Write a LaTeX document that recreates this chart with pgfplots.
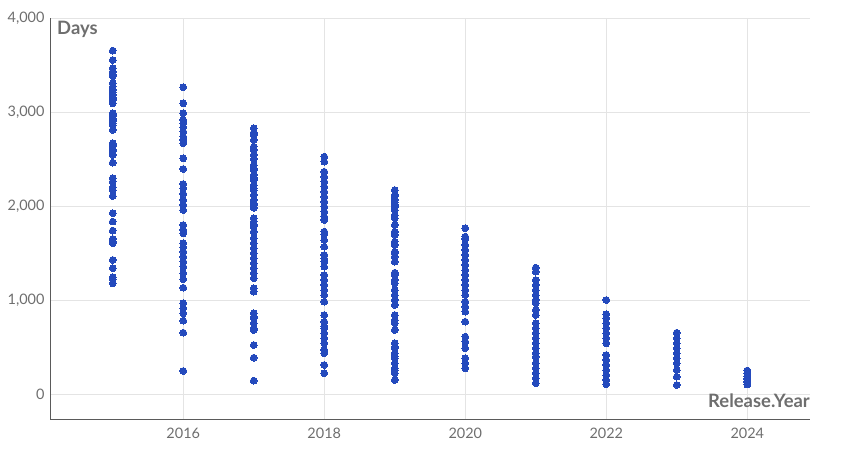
\documentclass[border=0pt]{standalone}
\usepackage{fontspec}
\setmainfont{Lato}
\usepackage{pgfplots}
\pgfplotsset{compat=1.18}
\definecolor{dot}{RGB}{36,74,189}
\definecolor{ticktxt}{RGB}{110,110,110}
\definecolor{gridc}{RGB}{228,228,228}
\definecolor{axc}{RGB}{90,90,90}

\begin{document}
\begin{tikzpicture}[x=1bp,y=1bp]
    \useasboundingbox (0,0) rectangle (852,455);
    \begin{axis}[
            at={(50bp,36bp)}, anchor=south west,
            scale only axis,
            width=760bp, height=401bp,
            xmin=2014.11, xmax=2024.89,
            ymin=-266, ymax=4000,
            axis x line=bottom, axis y line=left,
            axis line style={axc, thick, -},
            xtick={2016,2018,...,2024},
            ytick={0,1000,...,4000},
            major tick length=0pt,
            grid=major,
            major grid style={gridc, line width=0.9pt},
            tick label style={ticktxt, font=\fontsize{14.5}{16}\selectfont},
            x tick label style={/pgf/number format/set thousands separator={}, yshift=-6bp},
            y tick label style={/pgf/number format/1000 sep={,}, xshift=-2bp},
            /pgf/number format/assume math mode=true,
            clip=false,
        ]
        \addplot[only marks, color=dot, mark=*, mark size=3.4bp, mark options={draw=dot, fill=dot, line width=0pt}] table {
x y
2015 3653
2015 3553
2015 3465
2015 3429
2015 3394
2015 3380
2015 3306
2015 3270
2015 3234
2015 3210
2015 3181
2015 3150
2015 3128
2015 3092
2015 2986
2015 2970
2015 2951
2015 2930
2015 2915
2015 2900
2015 2880
2015 2860
2015 2809
2015 2667
2015 2650
2015 2632
2015 2596
2015 2580
2015 2543
2015 2461
2015 2295
2015 2259
2015 2200
2015 2170
2015 2106
2015 1922
2015 1834
2015 1738
2015 1649
2015 1620
2015 1603
2015 1426
2015 1337
2015 1241
2015 1220
2015 1177
2016 3263
2016 3092
2016 2986
2016 2915
2016 2880
2016 2837
2016 2791
2016 2738
2016 2702
2016 2667
2016 2507
2016 2394
2016 2234
2016 2189
2016 2128
2016 2064
2016 2011
2016 1957
2016 1798
2016 1745
2016 1709
2016 1603
2016 1560
2016 1514
2016 1461
2016 1408
2016 1355
2016 1284
2016 1220
2016 1131
2016 965
2016 912
2016 858
2016 780
2016 652
2016 245
2017 2827
2017 2780
2017 2756
2017 2702
2017 2632
2017 2596
2017 2543
2017 2500
2017 2436
2017 2400
2017 2383
2017 2330
2017 2300
2017 2277
2017 2223
2017 2190
2017 2170
2017 2117
2017 2064
2017 2030
2017 2011
2017 1980
2017 1869
2017 1834
2017 1800
2017 1781
2017 1727
2017 1657
2017 1603
2017 1550
2017 1497
2017 1444
2017 1390
2017 1337
2017 1284
2017 1231
2017 1124
2017 1089
2017 858
2017 820
2017 805
2017 752
2017 700
2017 681
2017 521
2017 386
2017 142
2018 2525
2018 2472
2018 2365
2018 2312
2018 2259
2018 2206
2018 2152
2018 2099
2018 2046
2018 1993
2018 1940
2018 1887
2018 1851
2018 1727
2018 1700
2018 1638
2018 1567
2018 1479
2018 1440
2018 1408
2018 1355
2018 1266
2018 1213
2018 1160
2018 1106
2018 1053
2018 982
2018 840
2018 769
2018 720
2018 699
2018 646
2018 593
2018 539
2018 468
2018 433
2018 309
2018 220
2019 2170
2019 2117
2019 2100
2019 2064
2019 2040
2019 2011
2019 1990
2019 1957
2019 1904
2019 1870
2019 1798
2019 1727
2019 1692
2019 1621
2019 1585
2019 1514
2019 1500
2019 1461
2019 1408
2019 1290
2019 1266
2019 1213
2019 1177
2019 1106
2019 1053
2019 1000
2019 947
2019 840
2019 787
2019 752
2019 681
2019 539
2019 500
2019 486
2019 433
2019 400
2019 380
2019 326
2019 273
2019 250
2019 220
2019 149
2020 1763
2020 1674
2020 1650
2020 1585
2020 1532
2020 1479
2020 1426
2020 1373
2020 1319
2020 1266
2020 1213
2020 1160
2020 1106
2020 1053
2020 982
2020 929
2020 876
2020 769
2020 610
2020 557
2020 486
2020 380
2020 326
2020 273
2021 1344
2021 1301
2021 1213
2021 1160
2021 1106
2021 1053
2021 1000
2021 965
2021 894
2021 840
2021 752
2021 699
2021 646
2021 592
2021 539
2021 486
2021 433
2021 397
2021 327
2021 273
2021 220
2021 167
2021 114
2022 1000
2022 848
2022 805
2022 752
2022 699
2022 646
2022 592
2022 539
2022 415
2022 362
2022 309
2022 255
2022 202
2022 149
2022 103
2023 652
2023 592
2023 539
2023 486
2023 433
2023 380
2023 326
2023 255
2023 184
2023 96
2024 250
2024 220
2024 190
2024 160
2024 130
2024 100
};
        \node[anchor=north west, inner sep=0pt, ticktxt, font=\fontsize{18.5}{20}\selectfont\bfseries]
            at (rel axis cs:0,1) [xshift=7bp, yshift=-3bp] {Days};
        \node[anchor=base east, inner sep=0pt, ticktxt, font=\fontsize{18.5}{20}\selectfont\bfseries]
            at (rel axis cs:1,0) [yshift=11bp] {Release.Year};
    \end{axis}
\end{tikzpicture}
\end{document}
